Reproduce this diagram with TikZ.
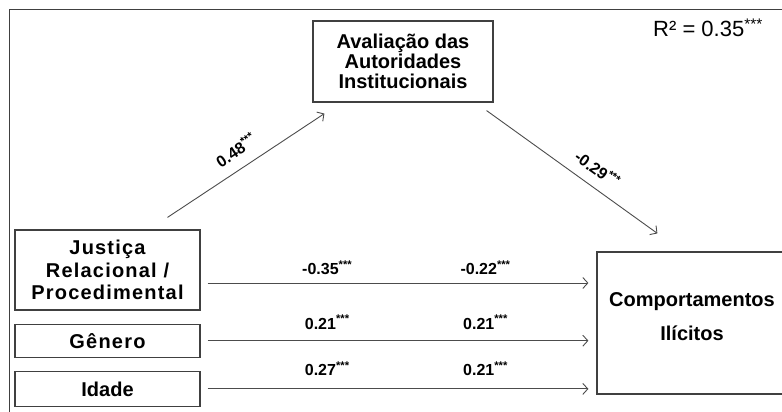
\documentclass[tikz,border=0pt]{standalone}
\usepackage{fontspec}
\setmainfont{Liberation Sans}
\newfontfamily\boxfont[LetterSpace=6]{Liberation Sans}
\usetikzlibrary{positioning}
\usetikzlibrary{arrows.meta}

\tikzset{
  var/.style={draw=black!75, line width=1.2pt, align=center, inner sep=0pt,
    font=\bfseries\fontsize{20}{20}\selectfont},
  link/.style={draw=black!70, line width=0.9pt,
    -{Straight Barb[length=5pt,width=11pt]}},
  coef/.style={inner sep=0pt, font=\bfseries\fontsize{16}{18}\selectfont}
}

\begin{document}
\begin{tikzpicture}[x=1pt, y=-1pt]
\useasboundingbox (0,0) rectangle (782,412);
\clip (0,0) rectangle (782,412);
% frame
\draw[black!75, line width=1pt] (9,10) rectangle (800,430);

% Mediator
\node[var,
    minimum width=180pt,
    minimum height=81pt
] (aval) at (403,61.5) {Avaliação das\\Autoridades\\Institucionais};

% Predictors
\node[var,
    font=\boxfont\bfseries\fontsize{20}{22.5}\selectfont,
    minimum width=185pt,
    minimum height=80pt
] (just) at (107.5,270) {Justiça\\Relacional /\\Procedimental};
\node[var,
    font=\boxfont\bfseries\fontsize{20}{22.5}\selectfont,
    minimum width=185pt,
    minimum height=33pt,
    below=13pt of just
] (gen) {Gênero};
\node[var,
    minimum width=185pt,
    minimum height=35pt,
    below=13pt of gen
] (idade) {Idade};

% Outcome
\node[var,
    font=\bfseries\fontsize{20}{34}\selectfont,
    text depth=13pt,
    minimum width=190pt,
    minimum height=142pt
] (comp) at (692,323) {Comportamentos\\Ilícitos};

% R squared
\node[anchor=base west, inner sep=0pt, font=\fontsize{22}{22}\selectfont]
    (rsq) at (653,37) {R² = 0.35\textsuperscript{***}};

% Indirect path
\draw[link] ([shift={(60,-12)}]just.north) -- ([shift={(12,11)}]aval.south west)
    node[coef, pos=0.5, sloped, above=11pt]{0.48\textsuperscript{***}};
\draw[link] ([shift={(-7,8)}]aval.south east) -- ([shift={(61,-18)}]comp.north west)
    node[coef, pos=0.59, sloped, above=10pt]{-0.29\textsuperscript{***}};

% Direct paths
\coordinate (jout) at ([yshift=-13pt]just.east);
\draw[link, shorten <=7pt, shorten >=8pt] (jout) -- (jout -| comp.west)
    node[coef, pos=0.32, above=8pt]{-0.35\textsuperscript{***}}
    node[coef, pos=0.72, above=8pt]{-0.22\textsuperscript{***}};
\draw[link, shorten <=7pt, shorten >=8pt] (gen.east) -- (gen.east -| comp.west)
    node[coef, pos=0.32, above=11pt]{0.21\textsuperscript{***}}
    node[coef, pos=0.72, above=11pt]{0.21\textsuperscript{***}};
\draw[link, shorten <=7pt, shorten >=8pt] (idade.east) -- (idade.east -| comp.west)
    node[coef, pos=0.32, above=13pt]{0.27\textsuperscript{***}}
    node[coef, pos=0.72, above=13pt]{0.21\textsuperscript{***}};

\end{tikzpicture}
\end{document}
